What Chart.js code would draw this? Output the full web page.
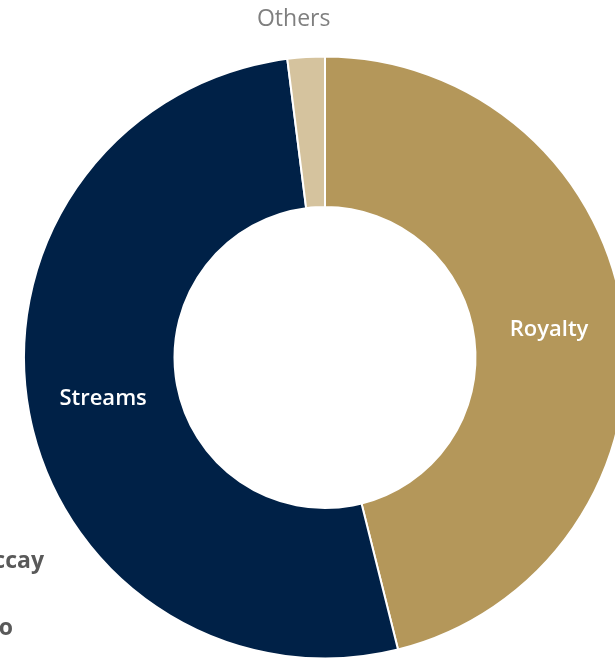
<!DOCTYPE html>
<html>
<head>
<meta charset="utf-8">
<script src="https://cdn.jsdelivr.net/npm/chart.js@4.4.0/dist/chart.umd.min.js"></script>
<style>
    html, body { margin: 0; padding: 0; background: #fff; overflow: hidden; }
    body { width: 615px; height: 658px; position: relative; font-family: "Open Sans", sans-serif; }
    #wrap { position: absolute; left: 0; top: 0; width: 650px; height: 660px; }
    .cut { position: absolute; right: 100%; white-space: nowrap; color: #595959; font-weight: 700; font-size: 23px; }
</style>
</head>
<body>
<div id="wrap"><canvas id="mixChart"></canvas></div>
<span class="cut" style="margin-right:-44px; top:543px;">Antapaccay</span>
<span class="cut" style="margin-right:-13px; top:610px;">Salobo</span>
<script>
// Доли выручки по типу
const categories = ['Royalty', 'Streams', 'Others'];
const shares = [46.1, 51.9, 2.0];
const colors = ['#b4975a', '#002147', '#d5c39e'];
const labelColors = ['#ffffff', '#ffffff', '#7f7f7f'];
const labelInside = [true, true, false];

// подписи сегментов: внутри кольца или снаружи
const sliceLabels = {
    id: 'sliceLabels',
    afterDatasetsDraw(chart) {
        const ctx = chart.ctx;
        const meta = chart.getDatasetMeta(0);
        ctx.save();
        ctx.textAlign = 'center';
        ctx.textBaseline = 'middle';
        meta.data.forEach((arc, i) => {
            let x, y;
            if (labelInside[i]) {
                const p = arc.getCenterPoint();
                x = p.x; y = p.y;
                ctx.font = '600 22px "Open Sans"';
            } else {
                const mid = (arc.startAngle + arc.endAngle) / 2;
                const r = arc.outerRadius + 38;
                x = arc.x + r * Math.cos(mid) - 10;
                y = arc.y + r * Math.sin(mid);
                ctx.font = '400 23px "Open Sans"';
            }
            ctx.fillStyle = labelColors[i];
            ctx.fillText(categories[i], x, y);
        });
        ctx.restore();
    }
};

new Chart(document.getElementById('mixChart'), {
    type: 'doughnut',
    data: {
        labels: categories,
        datasets: [{
            data: shares,
            backgroundColor: colors,
            borderColor: '#ffffff',
            borderWidth: 2
        }]
    },
    options: {
        responsive: true,
        maintainAspectRatio: false,
        animation: false,
        cutout: '50%',
        layout: { padding: { top: 55, left: 23, right: 23, bottom: 0 } },
        plugins: {
            legend: { display: false },
            tooltip: { enabled: false }
        }
    },
    plugins: [sliceLabels]
});
</script>
</body>
</html>
